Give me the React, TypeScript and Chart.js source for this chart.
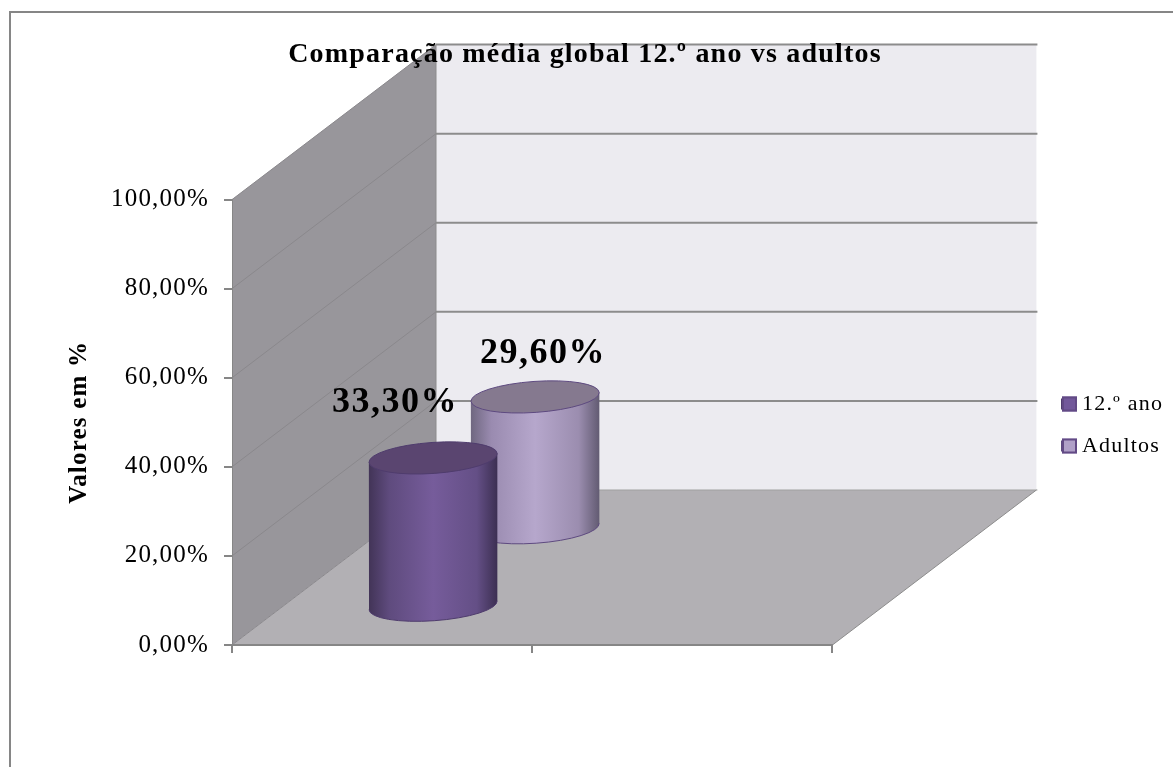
import React, { useEffect, useRef } from "react";
import { Chart, registerables } from "chart.js";

Chart.register(...registerables);

const categories = ["Média global", ""];
const series12Ano = [33.3];
const seriesAdultos = [29.6];
const seriesNames = ["12.º ano", "Adultos"];
const fillColors = ["#72589a", "#b0a0c8"];
const titleText = "Comparação média global 12.º ano vs adultos";
const axisTitle = "Valores em %";
const SERIF = "'Liberation Serif', 'Times New Roman', serif";

const sideStops = [
  ["#423457", "#5f4b7e", "#765c9b", "#644f86", "#3c2f52"],
  ["#6f6780", "#9a8bb0", "#b6a7cc", "#9b8daf", "#625b72"],
];
const capColors = ["#5a4570", "#85798f"];
const edgeColors = ["#4f3c6d", "#5e4a80"];
const legendEdge = "#624a85";
const labelOffsets = [[-38, -55], [8, -43]];
const depthFractions = [0.25, 0.75];
const DEPTH_X = 204;
const DEPTH_Y = 155;
const TILT = -0.07;
const LEGEND_LEFT = 1042;
const LEGEND_TOP = 373;
const LEGEND_PAD = 20;
const LEGEND_FONT = 22;
const LEGEND_BOX = 15;

const fmt = (v: number) => v.toFixed(2).replace(".", ",") + "%";

const scene = {
  id: "scene",
  afterLayout(chart: any) {
    const lg = chart.legend;
    const w = lg.right - lg.left;
    const h = lg.bottom - lg.top;
    lg.left = LEGEND_LEFT;
    lg.right = LEGEND_LEFT + w;
    lg.top = LEGEND_TOP;
    lg.bottom = LEGEND_TOP + h;
    chart.titleBlock.left = 0;
    chart.titleBlock.right = 1170;
  },
  beforeDraw(chart: any) {
    const { ctx, scales } = chart;
    const { x, y } = scales;
    const l = x.left, r = x.right, b = y.bottom, t = y.top;
    const poly = (pts: number[][], fill: string) => {
      ctx.beginPath();
      pts.forEach((p, i) => (i ? ctx.lineTo(p[0], p[1]) : ctx.moveTo(p[0], p[1])));
      ctx.closePath();
      ctx.fillStyle = fill;
      ctx.fill();
    };
    ctx.save();
    // outer frame
    ctx.strokeStyle = "#868686";
    ctx.lineWidth = 2;
    ctx.beginPath();
    ctx.moveTo(10, 768);
    ctx.lineTo(10, 12);
    ctx.lineTo(1173, 12);
    ctx.stroke();
    // walls
    poly([[l + DEPTH_X, t - DEPTH_Y], [r + DEPTH_X, t - DEPTH_Y], [r + DEPTH_X, b - DEPTH_Y], [l + DEPTH_X, b - DEPTH_Y]], "#ecebf0");
    poly([[l, b], [l, t], [l + DEPTH_X, t - DEPTH_Y], [l + DEPTH_X, b - DEPTH_Y]], "#98969b");
    poly([[l, b], [r, b], [r + DEPTH_X, b - DEPTH_Y], [l + DEPTH_X, b - DEPTH_Y]], "#b2b0b4");
    // grid lines through the value scale
    y.ticks.forEach((tick: any) => {
      const py = y.getPixelForValue(tick.value);
      ctx.strokeStyle = "#8a888c";
      ctx.lineWidth = 1;
      ctx.beginPath();
      ctx.moveTo(l, py);
      ctx.lineTo(l + DEPTH_X, py - DEPTH_Y);
      ctx.stroke();
      ctx.strokeStyle = tick.value === 0 ? "#a0a0a0" : "#8c8c8c";
      ctx.lineWidth = tick.value === 0 ? 1 : 2;
      ctx.beginPath();
      ctx.moveTo(l + DEPTH_X, py - DEPTH_Y);
      ctx.lineTo(r + DEPTH_X + 1, py - DEPTH_Y);
      ctx.stroke();
    });
    ctx.strokeStyle = "#8c8c8c";
    ctx.lineWidth = 1;
    ctx.beginPath();
    ctx.moveTo(l + DEPTH_X, t - DEPTH_Y);
    ctx.lineTo(l + DEPTH_X, b - DEPTH_Y);
    ctx.moveTo(r, b);
    ctx.lineTo(r + DEPTH_X, b - DEPTH_Y);
    ctx.stroke();
    ctx.restore();
    ctx.letterSpacing = "1.2px";
  },
  beforeDatasetDraw(chart: any, args: any) {
    const { ctx } = chart;
    const i = args.index;
    const f = depthFractions[i];
    args.meta.data.forEach((el: any) => {
      const rx = el.width / 2;
      const ry = 15.5;
      const cx = el.x + f * DEPTH_X;
      const top = el.y - f * DEPTH_Y;
      const bot = el.base - f * DEPTH_Y;
      const dy = Math.sin(-TILT) * rx;
      ctx.save();
      const grad = ctx.createLinearGradient(cx - rx, 0, cx + rx, 0);
      [0, 0.16, 0.5, 0.84, 1].forEach((s, k) => grad.addColorStop(s, sideStops[i][k]));
      ctx.beginPath();
      ctx.ellipse(cx, bot, rx, ry, TILT, 0, Math.PI);
      ctx.lineTo(cx - rx, top + dy);
      ctx.lineTo(cx + rx, top - dy);
      ctx.lineTo(cx + rx, bot - dy);
      ctx.closePath();
      ctx.fillStyle = grad;
      ctx.fill();
      ctx.strokeStyle = edgeColors[i];
      ctx.lineWidth = 1;
      ctx.beginPath();
      ctx.ellipse(cx, bot, rx, ry, TILT, 0, Math.PI);
      ctx.stroke();
      ctx.beginPath();
      ctx.ellipse(cx, top, rx, ry, TILT, 0, Math.PI * 2);
      ctx.fillStyle = capColors[i];
      ctx.fill();
      ctx.stroke();
      ctx.restore();
    });
    return false;
  },
  afterDatasetsDraw(chart: any) {
    const { ctx } = chart;
    chart.data.datasets.forEach((ds: any, i: number) => {
      const el = chart.getDatasetMeta(i).data[0];
      const f = depthFractions[i];
      ctx.save();
      ctx.font = `bold 36px ${SERIF}`;
      ctx.letterSpacing = "1.5px";
      ctx.fillStyle = "#000";
      ctx.textAlign = "center";
      ctx.textBaseline = "middle";
      ctx.fillText(fmt(ds.data[0]), el.x + f * DEPTH_X + labelOffsets[i][0], el.y - f * DEPTH_Y + labelOffsets[i][1]);
      ctx.restore();
    });
    // legend keys, larger than the library's narrow key so the text sits close to them
    const lg = chart.legend;
    lg.legendItems.forEach((item: any, i: number) => {
      const by = lg.top + LEGEND_PAD + i * (LEGEND_FONT + LEGEND_PAD) + (LEGEND_FONT - LEGEND_BOX) / 2;
      ctx.save();
      ctx.fillStyle = item.fillStyle;
      ctx.strokeStyle = legendEdge;
      ctx.lineWidth = 2;
      ctx.fillRect(lg.left + LEGEND_PAD, by, LEGEND_BOX, LEGEND_BOX);
      ctx.strokeRect(lg.left + LEGEND_PAD + 1, by + 1, LEGEND_BOX - 2, LEGEND_BOX - 2);
      ctx.restore();
    });
  },
};

export default function App() {
  const ref = useRef<HTMLCanvasElement>(null);
  useEffect(() => {
    document.body.style.margin = "0";
    const chart = new Chart(ref.current!, {
      type: "bar",
      plugins: [scene],
      data: {
        labels: categories,
        datasets: [series12Ano, seriesAdultos].map((data, i) => ({
          label: seriesNames[i],
          data,
          backgroundColor: fillColors[i],
          borderColor: edgeColors[i],
          borderWidth: 2,
          grouped: false,
          categoryPercentage: 1,
          barPercentage: 0.428,
        })),
      } as any,
      options: {
        responsive: false,
        animation: false,
        layout: { padding: { left: 0, right: 219, top: 0, bottom: 114 } },
        plugins: {
          title: {
            display: true,
            text: titleText,
            color: "#000",
            font: { family: SERIF, size: 28, weight: "bold" },
            padding: { top: 38, bottom: 128 },
          },
          legend: {
            display: true,
            position: "right",
            align: "start",
            labels: {
              color: "#000",
              font: { family: SERIF, size: LEGEND_FONT },
              boxWidth: 9,
              boxHeight: 9,
              padding: LEGEND_PAD,
            },
          },
          tooltip: { enabled: false },
        },
        scales: {
          x: {
            grid: { drawOnChartArea: false, color: "#868686", lineWidth: 2, tickLength: 8 },
            border: { color: "#868686", width: 2 },
            ticks: { display: false },
          },
          y: {
            min: 0,
            max: 100,
            afterFit: (s: any) => { s.width = 232; },
            title: {
              display: true,
              text: axisTitle,
              color: "#000",
              font: { family: SERIF, size: 25, weight: "bold" },
              padding: { top: 65, bottom: 0 },
            },
            grid: { drawOnChartArea: false, color: "#868686", lineWidth: 2, tickLength: 8 },
            border: { color: "#868686", width: 1 },
            ticks: {
              stepSize: 20,
              color: "#000",
              padding: 15,
              font: { family: SERIF, size: 25 },
              callback: (v: any) => fmt(Number(v)),
            },
          },
        },
      } as any,
    });
    return () => chart.destroy();
  }, []);
  return <canvas ref={ref} width={1173} height={767} style={{ display: "block" }} />;
}
